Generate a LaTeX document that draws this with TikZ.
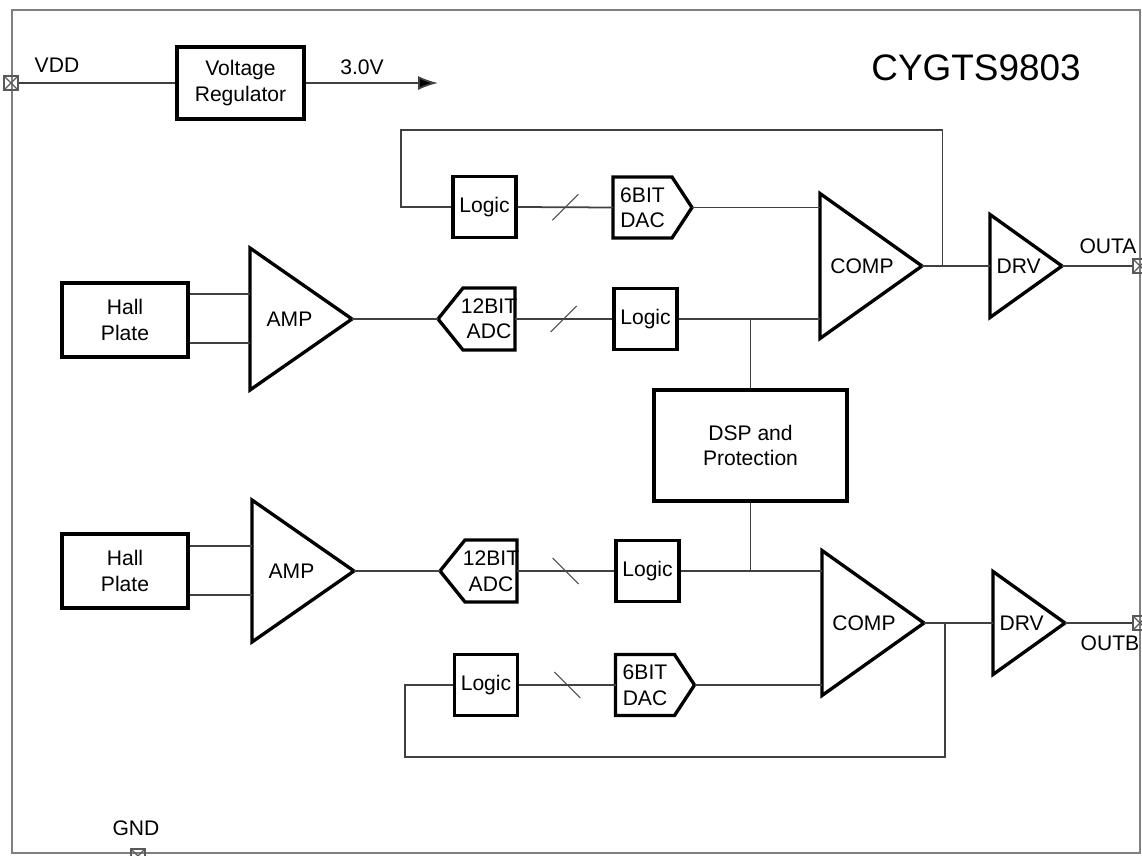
\documentclass[tikz,border=0pt]{standalone}
\usepackage{fontspec}
\setmainfont{Liberation Sans}
\usetikzlibrary{arrows.meta,positioning,shapes.geometric,calc}

\begin{document}
\begin{tikzpicture}[
    x=0.02cm, y=-0.02cm,
    font=\fontsize{12}{14.5}\selectfont,
    blk/.style={line width=1.9pt,black},
    box/.style={blk,draw,inner sep=0pt,align=center},
    logicbox/.style={box,minimum width=1.26cm,minimum height=1.22cm},
    hallbox/.style={box,minimum width=2.52cm,minimum height=1.48cm},
    conv/.style={inner sep=0pt,align=center},
    tri/.style={blk,draw,isosceles triangle,isosceles triangle stretches,
                shape border rotate=0,inner sep=0pt,outer sep=0pt,anchor=lower side},
    amp/.style={tri,minimum height=2.04cm,minimum width=2.84cm},
    comp/.style={tri,minimum height=2.04cm,minimum width=2.9cm},
    drv/.style={tri,minimum height=1.44cm,minimum width=2.06cm},
    wire/.style={line width=1pt,black!75},
    slash/.style={line width=0.6pt,black!70},
    pin/.style={draw=black!65,line width=0.7pt,minimum size=0.28cm,inner sep=0pt,
      path picture={\draw[black!65,line width=0.7pt]
        (path picture bounding box.north west) -- (path picture bounding box.south east)
        (path picture bounding box.south west) -- (path picture bounding box.north east);}}
  ]
  \useasboundingbox (0,0) rectangle (1142,855);
  \draw[black!50,line width=1.1pt] (12,10) rectangle (1140,853);

  % supply
  \node[pin] (vdd) at (11,83) {};
  \node (vddlbl) at (57,65) {VDD};
  \node[box,minimum width=2.54cm,minimum height=1.44cm] (reg) at (240.5,83) {Voltage\\Regulator};
  \coordinate (vout) at (438,83);
  \draw[wire] (vdd) -- (reg);
  \draw[wire,-{Latex[length=0.4cm,width=0.28cm,fill=black]}] (reg) -- (vout);
  \node (voutlbl) at (362,67) {3.0V};
  \node[font=\fontsize{21}{24}\selectfont] (chip) at (976,68) {CYGTS9803};

  % channel A
  \node[logicbox] (logic1) at (484.5,207) {Logic};
  \node[conv] (dac1) at (642.5,207.5) {6BIT\\DAC};
  \coordinate (dac1in) at ($(dac1)+(-29.5,0)$);
  \coordinate (dac1out) at ($(dac1)+(49.5,0)$);
  \draw[blk] ($(dac1)+(-29.5,-30.5)$) -- ($(dac1)+(29.5,-30.5)$) -- (dac1out)
    -- ($(dac1)+(29.5,30.5)$) -- ($(dac1)+(-29.5,30.5)$) -- cycle;
  \node[comp] (comp1) at (820,266) {COMP};
  \node[drv] (drv1) at (990,266) {DRV};
  \node[pin] (outa) at (1140,266) {};
  \node (outalbl) at (1108,246) {OUTA};

  \node[hallbox] (hall1) at (125,320) {Hall\\Plate};
  \node[amp] (amp1) at (250,319) {AMP};
  \node[conv] (adc1) at (489,319) {12BIT\\ADC};
  \coordinate (adc1in) at ($(adc1)+(-51,0)$);
  \coordinate (adc1out) at ($(adc1)+(26,0)$);
  \draw[blk] ($(adc1)+(-26,-31)$) -- ($(adc1)+(26,-31)$) -- ($(adc1)+(26,31)$)
    -- ($(adc1)+(-26,31)$) -- (adc1in) -- cycle;
  \node[logicbox] (logic2) at (645.5,319) {Logic};

  \node[box,minimum width=3.86cm,minimum height=2.22cm] (dsp) at (750.5,445.5) {DSP and\\Protection};

  % channel B
  \node[hallbox] (hall2) at (125,571) {Hall\\Plate};
  \node[amp] (amp2) at (252,571) {AMP};
  \node[conv] (adc2) at (491,571) {12BIT\\ADC};
  \coordinate (adc2in) at ($(adc2)+(-51,0)$);
  \coordinate (adc2out) at ($(adc2)+(26,0)$);
  \draw[blk] ($(adc2)+(-26,-31)$) -- ($(adc2)+(26,-31)$) -- ($(adc2)+(26,31)$)
    -- ($(adc2)+(-26,31)$) -- (adc2in) -- cycle;
  \node[logicbox] (logic3) at (647.5,571) {Logic};
  \node[comp] (comp2) at (822,623) {COMP};
  \node[drv] (drv2) at (993,623) {DRV};
  \node[pin] (outb) at (1140,623) {};
  \node (outblbl) at (1110,643) {OUTB};

  \node[logicbox] (logic4) at (486,685) {Logic};
  \node[conv] (dac2) at (645,685) {6BIT\\DAC};
  \coordinate (dac2in) at ($(dac2)+(-29.5,0)$);
  \coordinate (dac2out) at ($(dac2)+(49.5,0)$);
  \draw[blk] ($(dac2)+(-29.5,-30.5)$) -- ($(dac2)+(29.5,-30.5)$) -- (dac2out)
    -- ($(dac2)+(29.5,30.5)$) -- ($(dac2)+(-29.5,30.5)$) -- cycle;

  \node[pin] (gnd) at (138,856) {};
  \node (gndlbl) at (136,828) {GND};

  % wires A
  \draw[wire] (logic1.east) -- (dac1in);
  \draw[slash] ($(logic1.east)!0.5!(dac1in)+(-13,13)$) -- ++(26,-26);
  \draw[wire] (dac1out) -- (dac1out -| comp1.west);
  \draw[wire] (comp1.apex) -- (drv1.west);
  \draw[wire] (drv1.apex) -- (outa);
  \draw[wire] ($(comp1.apex)!0.3!(drv1.west)$) -- ++(0,-136) -| ($(logic1.west)+(-50,0)$) -- (logic1.west);
  \draw[wire] ([yshift=0.52cm]hall1.east) -- ([yshift=0.52cm]hall1.east -| amp1.west);
  \draw[wire] ([yshift=-0.46cm]hall1.east) -- ([yshift=-0.46cm]hall1.east -| amp1.west);
  \draw[wire] (amp1.apex) -- (adc1in);
  \draw[wire] (adc1out) -- (logic2.west);
  \draw[slash] ($(adc1out)!0.5!(logic2.west)+(-13,13)$) -- ++(26,-26);
  \draw[wire] (logic2.east) -- (logic2.east -| comp1.west);
  \draw[wire] (dsp.north) -- (dsp.north |- logic2.east);

  % wires B
  \draw[wire] ([yshift=0.5cm]hall2.east) -- ([yshift=0.5cm]hall2.east -| amp2.west);
  \draw[wire] ([yshift=-0.48cm]hall2.east) -- ([yshift=-0.48cm]hall2.east -| amp2.west);
  \draw[wire] (amp2.apex) -- (adc2in);
  \draw[wire] (adc2out) -- (logic3.west);
  \draw[slash] ($(adc2out)!0.5!(logic3.west)+(-13,-13)$) -- ++(26,26);
  \draw[wire] (logic3.east) -- (logic3.east -| comp2.west);
  \draw[wire] (dsp.south) -- (dsp.south |- logic3.east);
  \draw[wire] (comp2.apex) -- (drv2.west);
  \draw[wire] (drv2.apex) -- (outb);
  \draw[wire] (logic4.east) -- (dac2in);
  \draw[slash] ($(logic4.east)!0.5!(dac2in)+(-13,-13)$) -- ++(26,26);
  \draw[wire] (dac2out) -- (dac2out -| comp2.west);
  \draw[wire] ($(comp2.apex)!0.3!(drv2.west)$) -- ++(0,134) -| ($(logic4.west)+(-48,0)$) -- (logic4.west);
\end{tikzpicture}
\end{document}
